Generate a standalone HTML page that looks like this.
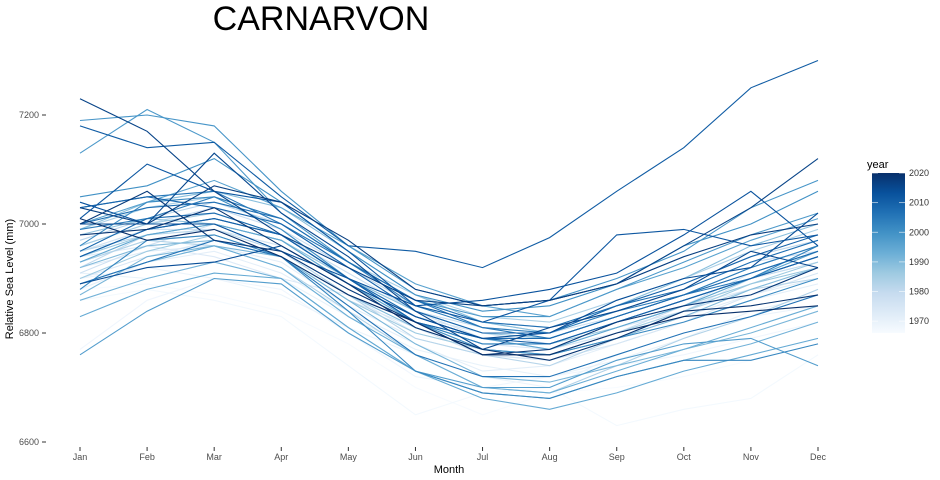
<!DOCTYPE html>
<html><head><meta charset="utf-8"><style>
body{margin:0;background:#fff;}
svg{font-family:"Liberation Sans",sans-serif;display:block;}
</style></head><body>
<svg id="chart" width="940" height="480">
<text x="321" y="30" font-size="34" text-anchor="middle" fill="#000">CARNARVON</text>
<g id="yaxis"></g>
<g id="xaxis"></g>
<g id="lines"></g>
<text x="449" y="473" font-size="11" text-anchor="middle">Month</text>
<text transform="translate(13,279) rotate(-90)" font-size="11" text-anchor="middle">Relative Sea Level (mm)</text>
<g>
<text x="867" y="168" font-size="11">year</text>
<defs><linearGradient id="cg" x1="0" y1="1" x2="0" y2="0">
<stop offset="0" stop-color="#f7fbff"/><stop offset="0.125" stop-color="#deebf7"/><stop offset="0.25" stop-color="#c6dbef"/><stop offset="0.375" stop-color="#9ecae1"/><stop offset="0.5" stop-color="#6baed6"/><stop offset="0.625" stop-color="#4292c6"/><stop offset="0.75" stop-color="#2171b5"/><stop offset="0.875" stop-color="#08519c"/><stop offset="1" stop-color="#08306b"/>
</linearGradient></defs>
<rect x="872" y="173" width="33" height="160" fill="url(#cg)"/>
<g id="legticks"></g>
</g>
</svg>
<script>
const months=["Jan","Feb","Mar","Apr","May","Jun","Jul","Aug","Sep","Oct","Nov","Dec"];
const yTicks=[6600,6800,7000,7200];
const legendYears=[1970,1980,1990,2000,2010,2020];
const years=[1966,1967,1968,1969,1970,1971,1972,1973,1974,1975,1976,1977,1978,1979,1980,1981,1982,1983,1984,1985,1986,1987,1988,1989,1990,1991,1992,1993,1994,1995,1996,1997,1998,1999,2000,2001,2002,2003,2004,2005,2006,2007,2008,2009,2010,2011,2012,2013,2014,2015,2016,2017,2018,2019,2020];
const levels=[
[6880,6890,6870,6840,6780,6700,6650,6690,6700,6720,6750,6790],
[6860,6880,6860,6830,6740,6650,6690,6700,6630,6660,6680,6760],
[6770,6860,6900,6880,6800,6720,6700,6720,6740,6760,6790,6820],
[6900,6920,6900,6870,6810,6760,6720,6700,6760,6800,6830,6850],
[6910,6900,6930,6900,6830,6770,6740,6720,6750,6790,6840,6870],
[6880,6930,6950,6910,6840,6780,6730,6740,6780,6820,6860,6890],
[6920,6950,6960,6930,6850,6790,6760,6750,6790,6830,6870,6900],
[6940,6960,6940,6900,6870,6800,6770,6760,6800,6850,6880,6920],
[6900,6940,6970,6950,6880,6820,6780,6770,6810,6840,6900,6930],
[6930,6970,6980,6940,6860,6810,6760,6750,6780,6820,6870,6910],
[6950,6990,6990,6960,6890,6830,6800,6780,6820,6860,6900,6940],
[6910,6960,7000,6970,6900,6840,6790,6770,6800,6850,6910,6950],
[6940,6990,7010,6980,6910,6840,6810,6800,6830,6870,6920,6960],
[6960,7000,7030,6990,6920,6860,6820,6810,6840,6880,6930,6950],
[6920,6980,7000,6950,6870,6820,6790,6780,6820,6860,6900,6930],
[6970,7010,7040,7000,6920,6850,6820,6800,6850,6890,6940,6970],
[6950,6980,6990,6950,6870,6790,6760,6740,6790,6840,6880,6900],
[6930,6970,6960,6920,6840,6760,6700,6690,6740,6790,6830,6880],
[6990,7030,7050,7010,6930,6870,6830,6820,6860,6900,6950,6990],
[6960,7000,7020,6980,6900,6830,6790,6790,6830,6870,6910,6950],
[6900,6950,6980,6940,6860,6800,6770,6760,6800,6840,6890,6930],
[6940,6980,7000,6970,6890,6820,6780,6780,6810,6850,6890,6920],
[6980,7010,7000,6970,6900,6840,6800,6790,6830,6870,6920,6960],
[6990,7040,7060,7030,6950,6870,6820,6800,6850,6900,6960,7000],
[6920,6960,6970,6940,6870,6810,6770,6760,6790,6830,6880,6920],
[6870,6940,6960,6940,6860,6780,6720,6710,6740,6770,6800,6840],
[6860,6900,6930,6900,6810,6730,6690,6680,6720,6750,6780,6820],
[6890,6930,6960,6920,6830,6760,6700,6690,6730,6770,6810,6850],
[6830,6880,6910,6900,6810,6730,6680,6660,6690,6730,6760,6790],
[6930,6980,7000,6970,6890,6820,6790,6770,6810,6850,6900,6950],
[7000,7040,7080,7030,6960,6890,6850,6830,6880,6920,6970,7010],
[6760,6840,6900,6890,6800,6730,6700,6700,6750,6780,6790,6740],
[7130,7210,7150,7020,6930,6860,6830,6830,6880,6930,6980,7020],
[7190,7200,7180,7060,6960,6880,6850,6860,6900,6950,7030,7080],
[7050,7070,7120,7040,6950,6870,6840,6850,6890,6960,7000,7060],
[6960,7040,7050,6990,6900,6820,6770,6760,6790,6820,6860,6900],
[6880,6970,6980,6940,6840,6730,6690,6680,6720,6750,6750,6780],
[6940,6990,7010,6980,6900,6820,6780,6780,6820,6860,6900,6960],
[6990,7010,7050,7010,6930,6850,6810,6800,6840,6870,6920,6960],
[7030,7050,7060,7000,6930,6860,6810,6790,6830,6870,6900,6940],
[6890,6930,6970,6940,6850,6760,6720,6720,6760,6800,6830,6870],
[7000,7030,7040,7010,6930,6860,6820,6810,6850,6880,6930,6970],
[6950,7010,7020,6980,6900,6830,6790,6790,6830,6870,6910,6950],
[7030,7050,7030,7000,6920,6840,6800,6800,6850,6890,6940,6980],
[6940,6990,7010,6980,6900,6820,6790,6780,6820,6860,6900,6940],
[7180,7140,7150,7050,6960,6950,6920,6975,7060,7140,7250,7300],
[7010,7110,7060,7040,6950,6850,6820,6860,6980,6990,6960,6980],
[7040,7000,7000,6950,6900,6850,6860,6880,6910,6980,7060,6960],
[6890,6920,6930,6960,6890,6830,6790,6800,6860,6900,6920,7020],
[7000,7000,7130,7020,6940,6840,6770,6810,6840,6880,6950,6920],
[7230,7170,7060,6980,6920,6860,6850,6860,6890,6960,7030,7120],
[7030,7000,7070,7040,6970,6880,6850,6860,6890,6940,6980,7000],
[7000,7060,6970,6950,6880,6820,6760,6770,6820,6850,6870,6920],
[6980,6990,7030,6960,6890,6810,6770,6750,6790,6840,6850,6870],
[7010,6970,6990,6940,6870,6820,6760,6760,6800,6830,6840,6850]
];
const NS="http://www.w3.org/2000/svg";
const xScale=i=>80+i*(818-80)/11;
const yScale=v=>224-(v-7000)*109/200;
const legScale=y=>173+(2020-y)*160/54;
const stops=["#f7fbff","#deebf7","#c6dbef","#9ecae1","#6baed6","#4292c6","#2171b5","#08519c","#08306b"].map(h=>[1,3,5].map(i=>parseInt(h.substr(i,2),16)));
function color(y){let t=(y-1966)/54;t=Math.max(0,Math.min(1,t))*8;const i=Math.min(7,Math.floor(t)),f=t-i;const c=stops[i].map((v,k)=>Math.round(v+(stops[i+1][k]-v)*f));return `rgb(${c})`;}
function mk(tag,attrs,parent){const e=document.createElementNS(NS,tag);for(const k in attrs)e.setAttribute(k,attrs[k]);parent.appendChild(e);return e;}
const ya=document.getElementById('yaxis'),xa=document.getElementById('xaxis'),lg=document.getElementById('lines'),lt=document.getElementById('legticks');
yTicks.forEach(v=>{
 const t=mk('text',{x:39,y:yScale(v)+3,'font-size':9,'text-anchor':'end',fill:'#4d4d4d'},ya);t.textContent=v;
 
 
 mk('line',{x1:42,x2:46,y1:yScale(v),y2:yScale(v),stroke:'#333','stroke-width':1},ya);
});
months.forEach((m,i)=>{
 mk('line',{x1:xScale(i),x2:xScale(i),y1:447,y2:451,stroke:'#333','stroke-width':1},xa);
 const t=mk('text',{x:xScale(i),y:460,'font-size':9,'text-anchor':'middle',fill:'#4d4d4d'},xa);t.textContent=m;
 
 
});
years.forEach((y,j)=>{
 const d=levels[j].map((v,i)=>(i?'L':'M')+xScale(i).toFixed(1)+','+yScale(v).toFixed(1)).join('');
 const p=mk('path',{d:d,fill:'none',stroke:color(y),'stroke-width':1.1},lg);
 
 
});
legendYears.forEach(y=>{
 const yy=legScale(y);
 mk('line',{x1:872,x2:878,y1:yy,y2:yy,stroke:'#fff','stroke-width':0.8,opacity:0.7},lt);
 mk('line',{x1:899,x2:905,y1:yy,y2:yy,stroke:'#fff','stroke-width':0.8,opacity:0.7},lt);
 const t=mk('text',{x:909,y:yy+3,'font-size':9,fill:'#333'},lt);t.textContent=y;
 
 
});
</script>
</body></html>
